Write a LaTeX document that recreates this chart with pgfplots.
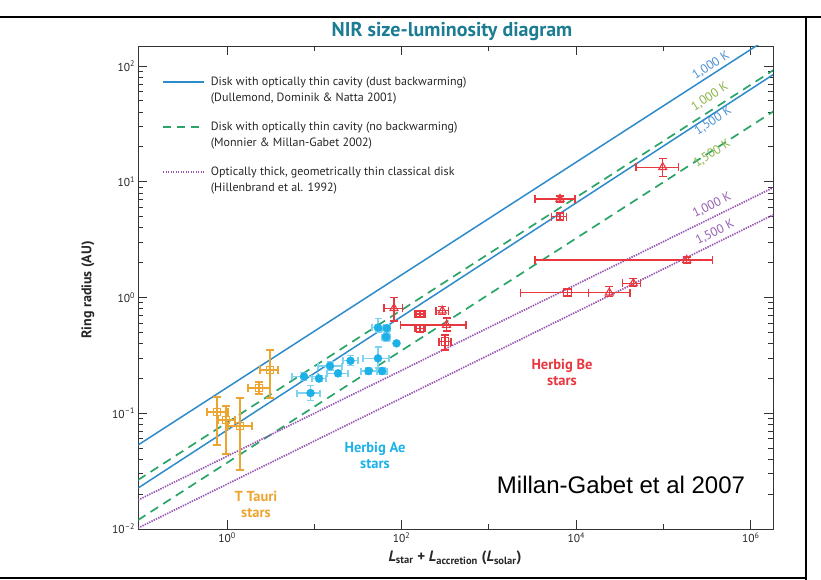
\documentclass[border=0pt]{standalone}
\usepackage{fontspec}
\setmainfont{PT Sans}
\newfontfamily\arial{Liberation Sans}
\usepackage{pgfplots}
\usepackage{pgfplotstable}
\pgfplotsset{compat=1.18}

\definecolor{blueL}{HTML}{2E8BCB}
\definecolor{greenL}{HTML}{2AA468}
\definecolor{purpL}{HTML}{9856B4}
\definecolor{redc}{HTML}{E8373F}
\definecolor{cyanc}{HTML}{1DB1E7}
\definecolor{cyanbar}{HTML}{7FD2F2}
\definecolor{orangec}{HTML}{EDA532}
\definecolor{titlec}{HTML}{1C7C93}
\definecolor{bluetxt}{HTML}{4A90D0}
\definecolor{greentxt}{HTML}{8AB446}
\definecolor{purptxt}{HTML}{9460B0}

\pgfplotstableread{
x y xm xp ym yp
0.768 0.1024 0.178 0.259 0.0493 0.0356
0.974 0.0873 0.185 0.261 0.0429 0.0281
1.409 0.0775 0.382 0.521 0.0452 0.0580
2.325 0.165 0.585 0.785 0.0184 0.0210
3.11 0.236 0.72 0.73 0.1007 0.1157
}\ttauri

\pgfplotstableread{
x y xm xp ym yp
7.62 0.2075 2.07 3.41 0.0158 0.0173
11.32 0.1995 1.91 2.30 0.012 0.012
9.05 0.1495 2.71 2.57 0.0208 0.024
15.13 0.2558 4.10 5.64 0.0198 0.0212
18.69 0.2213 4.71 5.63 0.012 0.013
25.98 0.2843 4.66 5.68 0.027 0.0297
41.77 0.2316 7.49 10.49 0.013 0.014
53.66 0.2982 17.53 18.07 0.0524 0.0752
59.64 0.2316 7.38 8.41 0.013 0.014
53.66 0.5503 7.86 9.24 0.0472 0.1106
67.5 0.5418 6.75 7.5 0.0417 0.0448
66.27 0.4556 6.6 7.4 0.035 0.038
}\herbigae

\pgfplotstableread{
x y
87.43 0.4018
}\herbigaeb

\pgfplotstableread{
x y xm xp ym yp
81.8 0.8067 19.0 21.1 0.1804 0.197
292.6 0.769 44.9 50.1 0.059 0.064
326.8 0.5785 229.1 219.9 0.065 0.0865
6523 7.10 3150 3164 0.41 0.44
97900 13.35 49500 49800 2.28 2.61
184400 2.109 181027 181700 0.122 0.13
45080 1.327 11350 9720 0.087 0.139
23930 1.100 10170 17400 0.084 0.14
}\betri

\pgfplotstableread{
x y xm xp ym yp
162.5 0.72 20.1 22.9 0.042 0.045
162.5 0.5418 20.1 22.9 0.032 0.033
314.1 0.4149 45.9 53.9 0.0632 0.0591
6523 4.994 1282 1260 0.29 0.306
7991 1.100 5677 5769 0.064 0.068
}\besq

\begin{document}
\begin{tikzpicture}[x=1pt,y=1pt]
\useasboundingbox (0,0) rectangle (821,580);
\begin{axis}[
  at={(138.5pt,51pt)}, anchor=south west,
  scale only axis, width=634.5pt, height=483pt,
  xmode=log, ymode=log,
  xmin=0.0969, xmax=1.795e6, ymin=0.01, ymax=149,
  axis line style={line width=0.9pt, black!80},
  tick style={line width=0.9pt, black!80},
  tick align=inside,
  major tick length=9pt, minor tick length=5pt,
  xtick={1,100,10000,1000000},
  xticklabels={10\textsuperscript{0},10\textsuperscript{2},10\textsuperscript{4},10\textsuperscript{6}},
  minor xtick={10,1000,100000},
  ytick={0.01,0.1,1,10,100},
  yticklabels={10\textsuperscript{\textendash2},10\textsuperscript{\textendash1},10\textsuperscript{0},10\textsuperscript{1},10\textsuperscript{2}},
  minor ytick={0.02,0.03,0.04,0.05,0.06,0.07,0.08,0.09,0.2,0.3,0.4,0.5,0.6,0.7,0.8,0.9,2,3,4,5,6,7,8,9,20,30,40,50,60,70,80,90},
  ticklabel style={font=\fontsize{11.5}{13}\selectfont, text=black!85},
  legend style={at={(0.037,0.938)}, anchor=north west, draw=none, fill=none,
    font=\fontsize{12}{16}\selectfont, text=black!85, row sep=17pt, column sep=5pt,
    inner sep=0pt, nodes={inner sep=1pt, align=left}, cells={anchor=west}},
  legend image code/.code={\draw[#1] (0pt,8pt) -- (41pt,8pt);},
]
% model lines
\addplot[blueL, line width=1.5pt, forget plot] coordinates {(0.0955,0.0531) (2e6,195)};
\addplot[blueL, line width=1.5pt, forget plot] coordinates {(0.0955,0.02254) (2e6,88.7)};
\addplot[greenL, line width=1.7pt, dash pattern=on 9pt off 6pt, forget plot] coordinates {(0.0955,0.02649) (2e6,96.6)};
\addplot[greenL, line width=1.7pt, dash pattern=on 9pt off 6pt, forget plot] coordinates {(0.0955,0.01194) (2e6,42.5)};
\addplot[purpL, line width=1.7pt, dash pattern=on 1.4pt off 1.1pt, forget plot] coordinates {(0.0955,0.01778) (2e6,9.25)};
\addplot[purpL, line width=1.7pt, dash pattern=on 1.4pt off 1.1pt, forget plot] coordinates {(0.0955,0.01019) (2e6,5.38)};

% data: T Tauri
\addplot[only marks, draw=orangec, mark=square, mark size=3.8pt,
  mark options={solid, line width=1.1pt, draw=orangec, fill=none}, forget plot,
  error bars/.cd, x dir=both, x explicit, y dir=both, y explicit,
  error bar style={line width=1.2pt, draw=orangec},
  error mark options={rotate=90, line width=1.2pt, mark size=4pt, draw=orangec}]
  table[x=x,y=y,x error minus=xm,x error plus=xp,y error minus=ym,y error plus=yp]{\ttauri};
% Herbig Ae
\addplot[only marks, draw=cyanc, mark=*, mark size=4pt,
  mark options={solid, fill=cyanc, draw=cyanc}, forget plot,
  error bars/.cd, x dir=both, x explicit, y dir=both, y explicit,
  error bar style={line width=1.2pt, draw=cyanbar},
  error mark options={rotate=90, line width=1.2pt, mark size=3.5pt, draw=cyanbar}]
  table[x=x,y=y,x error minus=xm,x error plus=xp,y error minus=ym,y error plus=yp]{\herbigae};
\addplot[only marks, draw=cyanc, mark=*, mark size=4pt,
  mark options={solid, fill=cyanc, draw=cyanc}, forget plot]
  table[x=x,y=y]{\herbigaeb};
% Herbig Be
\addplot[only marks, draw=redc, mark=triangle, mark size=4.6pt,
  mark options={solid, line width=1.1pt, draw=redc, fill=none}, forget plot,
  error bars/.cd, x dir=both, x explicit, y dir=both, y explicit,
  error bar style={line width=1.2pt, draw=redc},
  error mark options={rotate=90, line width=1.2pt, mark size=4pt, draw=redc}]
  table[x=x,y=y,x error minus=xm,x error plus=xp,y error minus=ym,y error plus=yp]{\betri};
\addplot[only marks, draw=redc, mark=square, mark size=3.8pt,
  mark options={solid, line width=1.1pt, draw=redc, fill=none}, forget plot,
  error bars/.cd, x dir=both, x explicit, y dir=both, y explicit,
  error bar style={line width=1.2pt, draw=redc},
  error mark options={rotate=90, line width=1.2pt, mark size=4pt, draw=redc}]
  table[x=x,y=y,x error minus=xm,x error plus=xp,y error minus=ym,y error plus=yp]{\besq};

% legend
\addlegendimage{blueL, line width=1.5pt}
\addlegendentry{Disk with optically thin cavity (dust backwarming)\\(Dullemond, Dominik \& Natta 2001)}
\addlegendimage{greenL, line width=1.7pt, dash pattern=on 8pt off 6pt}
\addlegendentry{Disk with optically thin cavity (no backwarming)\\(Monnier \& Millan-Gabet 2002)}
\addlegendimage{purpL, line width=1.5pt, dash pattern=on 1.4pt off 1.1pt}
\addlegendentry{Optically thick, geometrically thin classical disk\\(Hillenbrand et al. 1992)}

% line labels
\node[rotate=32.8, font=\fontsize{12.5}{14}\selectfont, text=bluetxt] at (axis cs:3.5e5,101) {1,000 K};
\node[rotate=32.8, font=\fontsize{12.5}{14}\selectfont, text=greentxt] at (axis cs:3.4e5,54) {1,000 K};
\node[rotate=32.8, font=\fontsize{12.5}{14}\selectfont, text=bluetxt] at (axis cs:3.7e5,33.5) {1,500 K};
\node[rotate=32.8, font=\fontsize{12.5}{14}\selectfont, text=greentxt] at (axis cs:3.6e5,17.5) {1,500 K};
\node[rotate=26.2, font=\fontsize{12.5}{14}\selectfont, text=purptxt] at (axis cs:3.6e5,6.25) {1,000 K};
\node[rotate=26.2, font=\fontsize{12.5}{14}\selectfont, text=purptxt] at (axis cs:3.89e5,3.65) {1,500 K};
\end{axis}

% frame
\draw[line width=2pt] (0,563) -- (821,563);
\draw[line width=2pt] (806,563) -- (806,0);
\draw[line width=2pt] (0,2) -- (806,2);

% texts
\node[font=\bfseries\fontsize{20}{22}\selectfont, text=titlec] at (452,548) {NIR size-luminosity diagram};
\node[rotate=90, font=\bfseries\fontsize{14}{16}\selectfont, text=black!85] at (88,290) {Ring radius (AU)};
\node[font=\bfseries\fontsize{15}{17}\selectfont, text=black!85] at (455,22) {\textit{L}\textsubscript{star} + \textit{L}\textsubscript{accretion} (\textit{L}\textsubscript{solar})};
\node[font=\arial\fontsize{24}{28}\selectfont] at (621,95) {Millan-Gabet et al 2007};
\node[align=center, font=\bfseries\fontsize{14.5}{16}\selectfont, text=redc] at (562,208) {Herbig Be\\stars};
\node[align=center, font=\bfseries\fontsize{14.5}{16}\selectfont, text=cyanc] at (375,124.5) {Herbig Ae\\stars};
\node[align=center, font=\bfseries\fontsize{14.5}{16}\selectfont, text=orangec] at (256,75.5) {T Tauri\\stars};
\end{tikzpicture}
\end{document}
